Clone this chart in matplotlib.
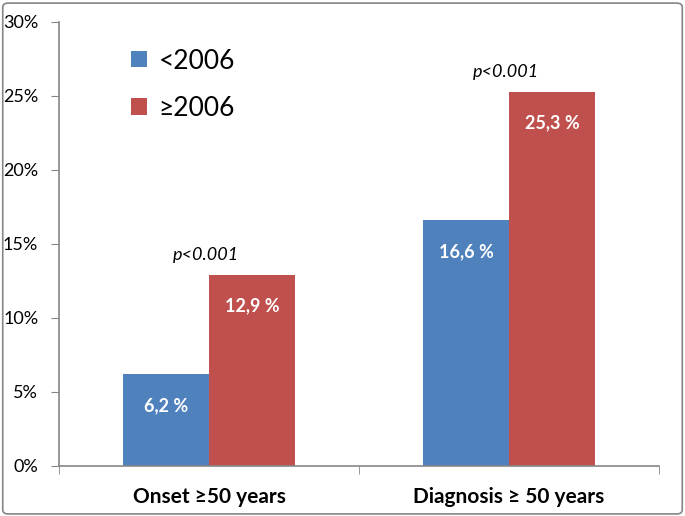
import numpy as np
import matplotlib.pyplot as plt
from matplotlib.patches import FancyBboxPatch, Patch

categories = ['Onset \u226550 years', 'Diagnosis \u2265 50 years']
series_names = ['<2006', '\u22652006']
before_2006 = [6.2, 16.6]
after_2006 = [12.9, 25.3]
pvalues = ['p<0.001', 'p<0.001']
yticks = [0, 5, 10, 15, 20, 25, 30]

blue = '#4F81BD'
red = '#C0504D'
axis_grey = '#868686'

plt.rcParams['font.family'] = ['Lato', 'DejaVu Sans']

fig = plt.figure(figsize=(6.85, 5.16), dpi=100)
fig.patches.append(FancyBboxPatch((0.004, 0.004), 0.992, 0.99, boxstyle='round,pad=0,rounding_size=0.008',
                                  transform=fig.transFigure, fill=False, edgecolor=axis_grey, linewidth=1.2))
ax = fig.add_axes([0.0861, 0.0969, 0.876, 0.8605])

x = np.arange(len(categories)) + 0.5
w = 0.287
ax.bar(x - w / 2, before_2006, w, color=blue)
ax.bar(x + w / 2, after_2006, w, color=red)

for i in range(len(categories)):
    ax.text(x[i] - w / 2, before_2006[i] - 2.1, '%s %%' % str(before_2006[i]).replace('.', ','),
            ha='center', va='center', color='white', fontweight='bold', fontsize=13)
    ax.text(x[i] + w / 2, after_2006[i] - 2.1, '%s %%' % str(after_2006[i]).replace('.', ','),
            ha='center', va='center', color='white', fontweight='bold', fontsize=13)
    ax.text(x[i] - 0.01, after_2006[i] + 1.35, pvalues[i], ha='center', va='center',
            fontstyle='italic', fontsize=13)

ax.set_xlim(0, 2)
ax.set_ylim(0, 30)
ax.set_yticks(yticks)
ax.set_yticklabels(['%d%%' % t for t in yticks], fontsize=13)
ax.set_xticks(x)
ax.set_xticklabels(categories, fontsize=15, fontweight='bold')
ax.set_xticks([0, 1, 2], minor=True)
ax.tick_params(axis='x', which='major', length=0, pad=15)
ax.tick_params(axis='x', which='minor', length=6, color=axis_grey, direction='out')
ax.tick_params(axis='y', length=6, color=axis_grey, pad=9)

for s in ['top', 'right']:
    ax.spines[s].set_visible(False)
for s in ['left', 'bottom']:
    ax.spines[s].set_color(axis_grey)
    ax.spines[s].set_linewidth(1.2)

handles = [Patch(facecolor=blue), Patch(facecolor=red)]
fig.legend(handles, series_names, loc='upper left', bbox_to_anchor=(0.157, 0.952), frameon=False,
           fontsize=19, handlelength=0.58, handleheight=0.58, handletextpad=0.45, labelspacing=0.85)

fig.savefig('out.png', dpi=100)
